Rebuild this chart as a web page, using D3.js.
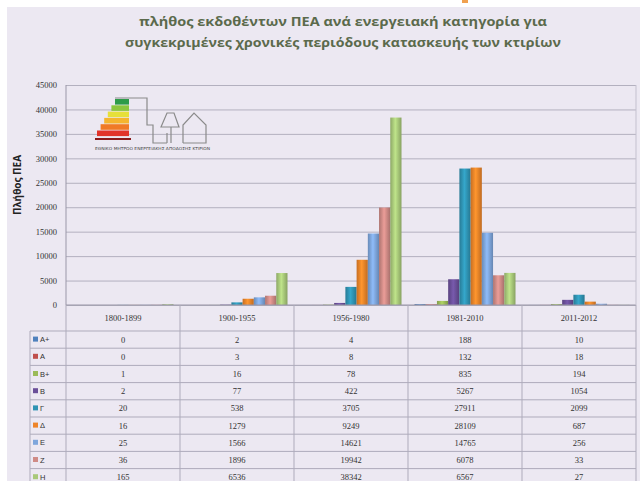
<!DOCTYPE html>
<html>
<head>
<meta charset="utf-8">
<script src="https://cdn.jsdelivr.net/npm/d3@7"></script>
<style>
  body { margin: 0; background: #fff; }
  svg { display: block; }
</style>
</head>
<body>
<script>
// data
var periods = ["1800-1899", "1900-1955", "1956-1980", "1981-2010", "2011-2012"];
var classes = ["Α+", "Α", "Β+", "Β", "Γ", "Δ", "Ε", "Ζ", "Η"];

var aPlus   = [0, 2, 4, 188, 10];
var aClass  = [0, 3, 8, 132, 18];
var bPlus   = [1, 16, 78, 835, 194];
var bClass  = [2, 77, 422, 5267, 1054];
var gamma   = [20, 538, 3705, 27911, 2099];
var delta   = [16, 1279, 9249, 28109, 687];
var epsilon = [25, 1566, 14621, 14765, 256];
var zeta    = [36, 1896, 19942, 6078, 33];
var eta     = [165, 6536, 38342, 6567, 27];

var yTicks = [0, 5000, 10000, 15000, 20000, 25000, 30000, 35000, 40000, 45000];

var seriesValues = [aPlus, aClass, bPlus, bClass, gamma, delta, epsilon, zeta, eta];
var colors = ["#4f81bd", "#c0504d", "#9bbb59", "#6a4f99", "#2f93b3",
              "#ee8429", "#7ea6dc", "#cf8b86", "#a9c97a"];

var svgWidth = 640;
var svgHeight = 481;

var margin = { top: 85, left: 66, right: 4 };
var plotBottom = 305;
var width = svgWidth - margin.left - margin.right;
var height = plotBottom - margin.top;

var svg = d3.select("body")
  .append("svg")
  .attr("width", svgWidth)
  .attr("height", svgHeight);

// background
svg.append("rect")
  .attr("x", 7).attr("y", 7)
  .attr("width", svgWidth - 7).attr("height", svgHeight - 7)
  .attr("fill", "#ece8f2");
svg.append("rect")
  .attr("x", 462).attr("y", 0).attr("width", 6).attr("height", 3)
  .attr("fill", "#f0a050");

// title
var titleLines = [
  "πλήθος εκδοθέντων ΠΕΑ ανά ενεργειακή κατηγορία για",
  "συγκεκριμένες χρονικές περιόδους κατασκευής των κτιρίων"
];
svg.selectAll(".title")
  .data(titleLines)
  .enter()
  .append("text")
  .attr("class", "title")
  .attr("x", 343)
  .attr("y", (d, i) => 26 + i * 21)
  .attr("text-anchor", "middle")
  .attr("textLength", (d, i) => i === 0 ? 408 : 436)
  .attr("lengthAdjust", "spacingAndGlyphs")
  .style("font-family", "'Open Sans', sans-serif")
  .style("font-weight", "bold")
  .style("font-size", "13px")
  .style("fill", "#5b6a4c")
  .text(d => d);

var chartGroup = svg.append("g")
  .attr("transform", `translate(${margin.left}, ${margin.top})`);

var xScale = d3.scaleBand()
  .domain(periods)
  .range([0, width]);

var xInner = d3.scaleBand()
  .domain(classes)
  .range([0, xScale.bandwidth()])
  .paddingOuter(0.58);

var yScale = d3.scaleLinear()
  .domain([0, 45000])
  .range([height, 0]);

// gridlines
chartGroup.append("g")
  .attr("class", "grid")
  .call(d3.axisLeft(yScale).tickValues(yTicks).tickSize(-width).tickFormat(""))
  .call(g => g.select(".domain").remove())
  .selectAll("line")
  .attr("stroke", "#b3b0bf")
  .attr("stroke-width", 1);

// y axis labels
var leftAxis = chartGroup.append("g")
  .call(d3.axisLeft(yScale).tickValues(yTicks).tickSize(0).tickPadding(9).tickFormat(d3.format("d")));
leftAxis.select(".domain").remove();
leftAxis.selectAll("text")
  .style("font-family", "'Liberation Serif', serif")
  .style("font-size", "8.5px")
  .style("fill", "#333");

// y axis title
svg.append("text")
  .attr("transform", "rotate(-90)")
  .attr("x", -185)
  .attr("y", 21)
  .attr("text-anchor", "middle")
  .style("font-family", "'Open Sans', sans-serif")
  .style("font-weight", "bold")
  .style("font-size", "10px")
  .style("fill", "#222")
  .text("Πλήθος ΠΕΑ");

// logo (decoration)
var logo = svg.append("g").attr("transform", "translate(95, 97)");
var steps = ["#2e9b4a", "#8cc63f", "#e6e03a", "#f5b52e", "#f07a26", "#e2332a"];
steps.forEach(function(c, i) {
  logo.append("rect")
    .attr("x", 20 - i * 3.6).attr("y", 2 + i * 6.3)
    .attr("width", 14 + i * 3.6).attr("height", 5.6)
    .attr("fill", c);
});
logo.append("rect").attr("x", 0).attr("y", 41).attr("width", 36).attr("height", 2).attr("fill", "#8b1a1a");
logo.append("path")
  .attr("d", "M20,1 H52 V28 H58 V46 H72 M72,46 V36 M66,30 L72,16 L79,16 L84,30 Z M76,30 V46 M88,46 V28 L99,16 L111,28 V46 H88")
  .attr("fill", "none")
  .attr("stroke", "#8a8a8a")
  .attr("stroke-width", 1.2);
logo.append("text")
  .attr("x", 0).attr("y", 53)
  .attr("textLength", 115)
  .attr("lengthAdjust", "spacingAndGlyphs")
  .style("font-family", "'DejaVu Sans', sans-serif")
  .style("font-size", "4px")
  .style("fill", "#444")
  .text("ΕΘΝΙΚΟ ΜΗΤΡΩΟ ΕΝΕΡΓΕΙΑΚΗΣ ΑΠΟΔΟΣΗΣ ΚΤΙΡΙΩΝ");

// bars
var bars = [];
periods.forEach(function(p, pi) {
  classes.forEach(function(c, ci) {
    bars.push({ period: p, cls: c, ci: ci, value: seriesValues[ci][pi] });
  });
});

var defs = svg.append("defs");
colors.forEach(function(c, i) {
  var g = defs.append("linearGradient").attr("id", "grad" + i)
    .attr("x1", "0").attr("x2", "1").attr("y1", "0").attr("y2", "0");
  g.append("stop").attr("offset", "0%").attr("stop-color", d3.color(c).darker(0.5));
  g.append("stop").attr("offset", "45%").attr("stop-color", d3.color(c).brighter(0.35));
  g.append("stop").attr("offset", "100%").attr("stop-color", d3.color(c).darker(0.6));
});

chartGroup.selectAll(".bar")
  .data(bars)
  .enter()
  .append("rect")
  .attr("class", "bar")
  .attr("x", d => xScale(d.period) + xInner(d.cls))
  .attr("width", xInner.bandwidth())
  .attr("y", d => yScale(d.value))
  .attr("height", d => height - yScale(d.value))
  .attr("fill", d => "url(#grad" + d.ci + ")");

// axis lines
chartGroup.append("line")
  .attr("x1", 0).attr("x2", width).attr("y1", height).attr("y2", height)
  .attr("stroke", "#9a97a8");
chartGroup.append("line")
  .attr("x1", 0).attr("x2", 0).attr("y1", 0).attr("y2", height)
  .attr("stroke", "#9a97a8");
chartGroup.append("line")
  .attr("x1", width).attr("x2", width).attr("y1", 0).attr("y2", height)
  .attr("stroke", "#c4c1cf");

// data table
var headerH = 26;
var rowH = 17.2;
var tableTop = plotBottom;
var tableLeft = 30;
var tableGroup = svg.append("g");

// horizontal lines
var lineYs = [tableTop + headerH];
classes.forEach((c, i) => lineYs.push(tableTop + headerH + (i + 1) * rowH));
tableGroup.selectAll(".hline")
  .data(lineYs)
  .enter()
  .append("line")
  .attr("x1", (d, i) => i === 0 ? margin.left : tableLeft)
  .attr("x2", margin.left + width)
  .attr("y1", d => d).attr("y2", d => d)
  .attr("stroke", "#aeabbb");
tableGroup.append("line")
  .attr("x1", tableLeft).attr("x2", margin.left)
  .attr("y1", tableTop + headerH).attr("y2", tableTop + headerH)
  .attr("stroke", "#aeabbb");

// vertical lines
var vxs = [tableLeft, margin.left].concat(periods.map(p => margin.left + xScale(p) + xScale.bandwidth()));
tableGroup.selectAll(".vline")
  .data(vxs)
  .enter()
  .append("line")
  .attr("x1", d => d).attr("x2", d => d)
  .attr("y1", (d, i) => i === 0 ? tableTop + headerH : tableTop)
  .attr("y2", svgHeight)
  .attr("stroke", "#aeabbb");

// header
tableGroup.selectAll(".head")
  .data(periods)
  .enter()
  .append("text")
  .attr("x", d => margin.left + xScale(d) + xScale.bandwidth() / 2)
  .attr("y", tableTop + 16)
  .attr("text-anchor", "middle")
  .style("font-family", "'Liberation Serif', serif")
  .style("font-size", "8.5px")
  .style("fill", "#333")
  .text(d => d);

// rows
classes.forEach(function(c, ci) {
  var yMid = tableTop + headerH + ci * rowH + rowH / 2;
  tableGroup.append("rect")
    .attr("x", 33).attr("y", yMid - 3)
    .attr("width", 5).attr("height", 5)
    .attr("fill", colors[ci]);
  tableGroup.append("text")
    .attr("x", 40).attr("y", yMid + 2.5)
    .style("font-family", "'Liberation Sans', sans-serif")
    .style("font-size", "7.5px")
    .style("fill", "#333")
    .text(c);
  tableGroup.selectAll(".cell" + ci)
    .data(seriesValues[ci])
    .enter()
    .append("text")
    .attr("x", (d, pi) => margin.left + xScale(periods[pi]) + xScale.bandwidth() / 2)
    .attr("y", yMid + 3)
    .attr("text-anchor", "middle")
    .style("font-family", "'Liberation Serif', serif")
    .style("font-size", "8.5px")
    .style("fill", "#333")
    .text(d => d);
});
</script>
</body>
</html>
